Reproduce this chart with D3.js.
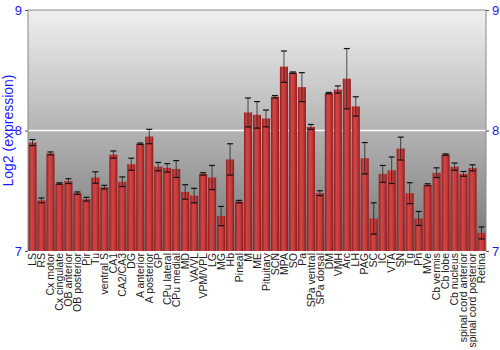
<!DOCTYPE html>
<html>
<head>
<meta charset="utf-8">
<script src="https://cdn.jsdelivr.net/npm/d3@7"></script>
<style>
  body { margin: 0; background: #fff; }
  text { font-family: "Liberation Sans", Arial, sans-serif; }
</style>
</head>
<body>
<svg id="chart" width="500" height="350"></svg>
<script>
// tissues along the x axis
var regions = ["LS", "RS", "Cx motor", "Cx cingulate", "OB anterior", "OB posterior", "Pir", "Tu",
  "ventral S", "CA1", "CA2/CA3", "DG", "A anterior", "A posterior", "GP", "CPu lateral", "CPu medial",
  "MD", "VA/VL", "VPM/VPL", "LG", "MG", "Hb", "Pineal", "M", "ME", "Pituitary", "SCN", "MPA", "SO",
  "Pa", "SPa ventral", "SPa dorsal", "DM", "VMH", "Arc", "LH", "PAG", "SC", "IC", "VTA", "SN", "Tg",
  "Pn", "MVe", "Cb vermis", "Cb lobe", "Cb nucleus", "spinal cord anterior", "spinal cord posterior", "Retina"];

// mean log2 expression
var means = [7.90, 7.42, 7.81, 7.56, 7.58, 7.48, 7.43, 7.61,
  7.53, 7.80, 7.575, 7.72, 7.89, 7.95, 7.70, 7.69, 7.68,
  7.49, 7.46, 7.64, 7.61, 7.29, 7.76, 7.41, 8.15, 8.13, 8.10, 8.28, 8.53, 8.48,
  8.36, 8.03, 7.48, 8.31, 8.34, 8.43, 8.20, 7.77, 7.27, 7.64, 7.67, 7.85, 7.48,
  7.27, 7.55, 7.65, 7.80, 7.70, 7.64, 7.69, 7.15];

// standard error (half height of the whisker)
var errs = [0.025, 0.02, 0.012, 0.006, 0.02, 0.01, 0.015, 0.047,
  0.015, 0.03, 0.04, 0.05, 0.006, 0.06, 0.035, 0.035, 0.07,
  0.06, 0.06, 0.01, 0.1, 0.08, 0.13, 0.01, 0.12, 0.11, 0.07, 0.01, 0.13, 0.006,
  0.12, 0.02, 0.02, 0.006, 0.03, 0.25, 0.08, 0.13, 0.13, 0.07, 0.11, 0.095, 0.087,
  0.058, 0.008, 0.04, 0.006, 0.03, 0.02, 0.025, 0.05];

var yTicks = [7, 8, 9];

var svg = d3.select("#chart");
var margin = {top: 10, right: 14, bottom: 99, left: 28};
var width = 500 - margin.left - margin.right,
    height = 350 - margin.top - margin.bottom;

var defs = svg.append("defs");
var bg = defs.append("linearGradient").attr("id", "bg")
    .attr("x1", 0).attr("y1", 0).attr("x2", 0).attr("y2", 1);
bg.append("stop").attr("offset", "0%").attr("stop-color", "#f0f0f0");
bg.append("stop").attr("offset", "100%").attr("stop-color", "#767676");

var barGrad = defs.append("linearGradient").attr("id", "bar")
    .attr("x1", 0).attr("y1", 0).attr("x2", 1).attr("y2", 0);
barGrad.append("stop").attr("offset", "0%").attr("stop-color", "#8e1e1e");
barGrad.append("stop").attr("offset", "35%").attr("stop-color", "#d04646");
barGrad.append("stop").attr("offset", "65%").attr("stop-color", "#c63c3c");
barGrad.append("stop").attr("offset", "100%").attr("stop-color", "#8a1c1c");

var g = svg.append("g").attr("transform", "translate(" + margin.left + "," + margin.top + ")");

var x = d3.scaleBand().domain(regions).range([0, width]).paddingInner(0.1).paddingOuter(0.05);
var y = d3.scaleLinear().domain([7, 9]).range([height, 0]);

g.append("rect")
    .attr("width", width).attr("height", height)
    .attr("fill", "url(#bg)");

// white reference line at 8
g.append("line")
    .attr("x1", 0).attr("x2", width)
    .attr("y1", y(8)).attr("y2", y(8))
    .attr("stroke", "#fff").attr("stroke-width", 1.5);

g.selectAll("rect.bar")
    .data(means)
  .enter().append("rect")
    .attr("class", "bar")
    .attr("x", function(d, i) { return x(regions[i]); })
    .attr("y", function(d) { return y(d); })
    .attr("width", x.bandwidth())
    .attr("height", function(d) { return height - y(d); })
    .attr("fill", "url(#bar)");

var eb = g.selectAll("g.err")
    .data(means)
  .enter().append("g")
    .attr("class", "err")
    .attr("transform", function(d, i) { return "translate(" + (x(regions[i]) + x.bandwidth() / 2) + ",0)"; });

eb.append("line")
    .attr("y1", function(d, i) { return y(d + errs[i]); })
    .attr("y2", function(d, i) { return y(d - errs[i]); })
    .attr("stroke", "#111").attr("stroke-opacity", 0.7).attr("stroke-width", 1);
eb.append("line")
    .attr("x1", -3).attr("x2", 3)
    .attr("y1", function(d, i) { return y(d + errs[i]); })
    .attr("y2", function(d, i) { return y(d + errs[i]); })
    .attr("stroke", "#111").attr("stroke-width", 1.2);
eb.append("line")
    .attr("x1", -3).attr("x2", 3)
    .attr("y1", function(d, i) { return y(d - errs[i]); })
    .attr("y2", function(d, i) { return y(d - errs[i]); })
    .attr("stroke", "#111").attr("stroke-width", 1.2);

// frame
g.append("path")
    .attr("d", "M0," + height + "V0H" + width + "V" + height)
    .attr("fill", "none").attr("stroke", "#888");

var yl = g.append("g").call(d3.axisLeft(y).tickValues(yTicks).tickSize(3).tickFormat(d3.format("d")));
var yr = g.append("g").attr("transform", "translate(" + width + ",0)")
    .call(d3.axisRight(y).tickValues(yTicks).tickSize(3).tickFormat(d3.format("d")));
[yl, yr].forEach(function(a) {
  a.select(".domain").remove();
  a.selectAll(".tick line").attr("stroke", "#555");
  a.selectAll(".tick text").attr("fill", "#1a1aff").style("font-size", "13px");
});

var xa = g.append("g").attr("transform", "translate(0," + height + ")")
    .call(d3.axisBottom(x).tickSize(0));
xa.select(".domain").remove();
xa.selectAll(".tick text")
    .attr("transform", "rotate(-90)")
    .attr("x", -2).attr("y", 0).attr("dy", "0.35em")
    .attr("text-anchor", "end")
    .attr("fill", "#222")
    .style("font-size", "10.5px");

svg.append("text")
    .attr("transform", "translate(13," + (margin.top + height / 2) + ") rotate(-90)")
    .attr("text-anchor", "middle")
    .attr("fill", "#1a1aff")
    .style("font-size", "14px")
    .text("Log2 (expression)");
</script>
</body>
</html>
